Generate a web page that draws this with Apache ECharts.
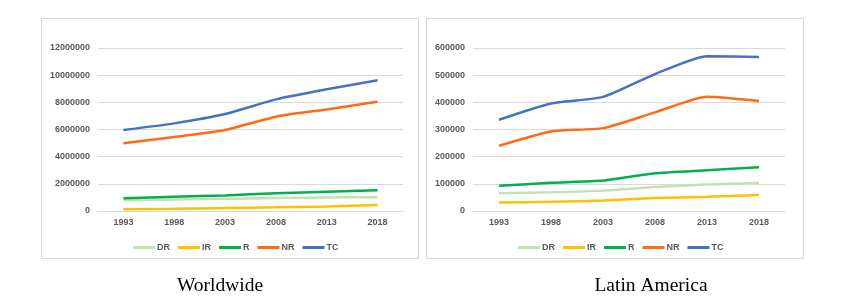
<!DOCTYPE html>
<html><head><meta charset="utf-8">
<script src="https://cdn.jsdelivr.net/npm/echarts@6/dist/echarts.min.js"></script>
<style>html,body{margin:0;padding:0;background:#fff}#c{width:863px;height:303px}</style>
</head><body><div id="c"></div>
<script>
const years = ['1993','1998','2003','2008','2013','2018'];
const seriesNames = ['DR','IR','R','NR','TC'];
const colors = ['#c5e0b4','#ffc000','#00b050','#ff6a13','#4472c4'];

// Worldwide
const wDR = [800000, 850000, 900000, 950000, 1000000, 1020000];
const wIR = [120000, 160000, 220000, 270000, 340000, 440000];
const wR  = [930000, 1050000, 1150000, 1300000, 1420000, 1520000];
const wNR = [4980000, 5450000, 5960000, 6940000, 7480000, 8050000];
const wTC = [5960000, 6450000, 7140000, 8220000, 8960000, 9620000];

// Latin America
const lDR = [65000, 69000, 75000, 88000, 98000, 103000];
const lIR = [31000, 34000, 39000, 48000, 52000, 59000];
const lR  = [93000, 104000, 112000, 139000, 150000, 161000];
const lNR = [240000, 293000, 305000, 363000, 421000, 405000];
const lTC = [336000, 396000, 420000, 504000, 570000, 567000];

const wData = [wDR, wIR, wR, wNR, wTC];
const lData = [lDR, lIR, lR, lNR, lTC];

const labelStyle = {color:'#595959', fontSize:9, fontWeight:'bold', fontFamily:'Liberation Sans, Arial, sans-serif'};

const chart = echarts.init(document.getElementById('c'));
function mkSeries(data, idx){
  return data.map((d,i)=>({
    name: seriesNames[i], type:'line', xAxisIndex:idx, yAxisIndex:idx,
    data:d, smooth:0.2, symbol:'none',
    lineStyle:{width:2.5, color:colors[i]}, itemStyle:{color:colors[i]}
  }));
}
const legendCommon = {
  data: seriesNames, icon:'rect', itemWidth:22, itemHeight:3, itemGap:8,
  textStyle:{...labelStyle, padding:[0,0,0,-3]}, top:238
};
const plain = v => String(v);
const titleStyle = {fontFamily:'Liberation Serif, Times New Roman, serif', fontSize:19.5, fontWeight:'normal', color:'#000'};
chart.setOption({
  animation:false,
  color: colors,
  graphic:[
    {type:'rect', shape:{x:41.5,y:18.5,width:377,height:240}, style:{fill:'none', stroke:'#d9d9d9', lineWidth:1}},
    {type:'rect', shape:{x:426.5,y:18.5,width:377,height:240}, style:{fill:'none', stroke:'#d9d9d9', lineWidth:1}}
  ],
  title:[
    {text:'Worldwide', left:215, top:271, textAlign:'center', textStyle:titleStyle},
    {text:'Latin America', left:646, top:271, textAlign:'center', textStyle:titleStyle}
  ],
  legend:[
    {...legendCommon, left:128},
    {...legendCommon, left:513}
  ],
  grid:[
    {left:98, top:48, width:305, height:163},
    {left:473, top:48, width:312, height:163}
  ],
  xAxis:[0,1].map(i=>({
    type:'category', gridIndex:i, data:years, boundaryGap:true,
    axisLine:{show:true, lineStyle:{color:'#d9d9d9'}}, axisTick:{show:false},
    axisLabel:{...labelStyle, margin:7}
  })),
  yAxis:[
    {type:'value', gridIndex:0, min:0, max:12000000, interval:2000000,
     axisLine:{show:false}, axisTick:{show:false},
     splitLine:{lineStyle:{color:'#d9d9d9'}}, axisLabel:{...labelStyle, margin:8, formatter:plain}},
    {type:'value', gridIndex:1, min:0, max:600000, interval:100000,
     axisLine:{show:false}, axisTick:{show:false},
     splitLine:{lineStyle:{color:'#d9d9d9'}}, axisLabel:{...labelStyle, margin:8, formatter:plain}}
  ],
  series:[...mkSeries(wData,0), ...mkSeries(lData,1)]
});
</script></body></html>
